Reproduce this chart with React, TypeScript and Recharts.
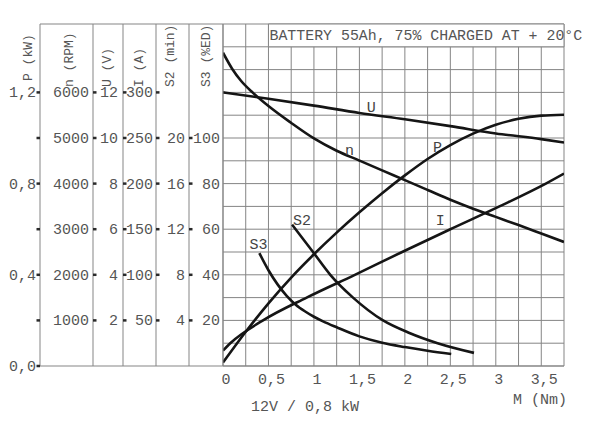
import React from 'react';
import { LineChart, Line, XAxis, YAxis, CartesianGrid, ReferenceArea, ReferenceDot } from 'recharts';

// ---------- data ----------
const torqueTicks = [0, 0.25, 0.5, 0.75, 1, 1.25, 1.5, 1.75, 2, 2.25, 2.5, 2.75, 3, 3.25, 3.5, 3.75];
const torqueLabeled = [0, 0.5, 1, 1.5, 2, 2.5, 3, 3.5];

const uTorque = [0, 0.5, 1, 1.5, 2, 2.5, 3, 3.5, 3.75];
const uVolts = [12.0, 11.72, 11.42, 11.1, 10.82, 10.52, 10.2, 9.95, 9.8];

const nTorque = [0, 0.1, 0.2, 0.33, 0.5, 0.75, 1.0, 1.25, 1.5, 1.75, 2.0, 2.25, 2.5, 2.75, 3.0, 3.25, 3.5, 3.75];
const nRpm = [6870, 6520, 6250, 5990, 5700, 5330, 4990, 4720, 4505, 4290, 4075, 3860, 3645, 3450, 3270, 3090, 2905, 2720];

const pTorque = [0, 0.25, 0.5, 0.75, 1.0, 1.25, 1.5, 1.75, 2.0, 2.25, 2.5, 2.75, 3.0, 3.25, 3.5, 3.75];
const pKw = [0.015, 0.15, 0.275, 0.388, 0.49, 0.585, 0.674, 0.758, 0.836, 0.908, 0.969, 1.019, 1.058, 1.084, 1.098, 1.102];

const iTorque = [0, 0.08, 0.44, 0.92, 1.45, 1.97, 2.5, 3.04, 3.55, 3.75];
const iAmps = [17, 25, 50, 75, 100, 125, 150, 175, 200, 211];

const s2Torque = [0.76, 0.99, 1.18, 1.43, 1.76, 2.05, 2.36, 2.76];
const s2Min = [12.4, 10, 8, 6, 4, 2.9, 2, 1.15];

const s3Torque = [0.4, 0.5, 0.6, 0.7, 0.8, 0.9, 1.0, 1.1, 1.25, 1.5, 1.75, 2.0, 2.25, 2.51];
const s3Ed = [49.5, 42, 35.8, 30.8, 26.9, 24.0, 21.6, 19.6, 17.0, 13.0, 10.2, 8.3, 6.7, 5.3];

// axis ticks
const pTicks = [0, 0.2, 0.4, 0.6, 0.8, 1.0, 1.2];
const pLabeled = [0, 0.4, 0.8, 1.2];
const nTicks = [1000, 2000, 3000, 4000, 5000, 6000];
const uTicks = [2, 4, 6, 8, 10, 12];
const iTicks = [50, 100, 150, 200, 250, 300];
const s2Ticks = [4, 8, 12, 16, 20];
const s3Ticks = [0, 10, 20, 30, 40, 50, 60, 70, 80, 90, 100, 110, 120, 130, 140, 150];
const s3Labeled = [20, 40, 60, 80, 100];

// axis ids (alphabetical order = order outward from the plot)
const AX_S3 = 'a_s3';
const AX_S2 = 'b_s2';
const AX_I = 'c_i';
const AX_U = 'd_u';
const AX_N = 'e_n';
const AX_P = 'f_p';

// curve annotations
const curveNames = ['U', 'n', 'P', 'I', 'S2', 'S3'];
const curveAxis = [AX_U, AX_N, AX_P, AX_I, AX_S2, AX_S3];
const curveLabelM = [1.63, 1.39, 2.36, 2.39, 0.87, 0.39];
const curveLabelV = [11.36, 4735, 0.96, 160, 12.8, 53.5];

const titleText = 'BATTERY 55Ah, 75% CHARGED AT + 20°C';

// ---------- styles ----------
const FONT = '"Liberation Mono", "DejaVu Sans Mono", monospace';
const TEXT = '#555';
const GRID = '#858585';
const INK = '#151515';
const TICKINK = '#2a2a2a';

const zip = (xs: number[], ys: number[]) => xs.map((m, k) => ({ m, v: ys[k] }));

const fmtComma = (v: number, digits?: number) =>
  (digits != null ? v.toFixed(digits) : String(v)).replace('.', ',');

const makeYTick = (
  labeled: number[] | null,
  fmt: (v: number) => string,
  dash: 'left' | 'right' | 'none',
  margin: number
) => (props: any) => {
  const { x, y, payload } = props;
  const v = payload.value as number;
  const ax = x + margin;
  const show = labeled == null || labeled.some((l) => Math.abs(l - v) < 1e-9);
  return (
    <g>
      {dash !== 'none' && (
        <line
          x1={dash === 'right' ? ax : ax - 3.5}
          x2={dash === 'right' ? ax + 3.5 : ax}
          y1={y}
          y2={y}
          stroke={TICKINK}
          strokeWidth={2.5}
        />
      )}
      {show && (
        <text x={x} y={y + 5} textAnchor="end" fontFamily={FONT} fontSize={15} fill={TEXT}>
          {fmt(v)}
        </text>
      )}
    </g>
  );
};

const xTick = (props: any) => {
  const { x, y, payload } = props;
  const v = payload.value as number;
  const show = torqueLabeled.some((l) => Math.abs(l - v) < 1e-9);
  if (!show) return <g />;
  return (
    <text x={x + 3} y={y + 18} textAnchor="middle" fontFamily={FONT} fontSize={15} fill={TEXT}>
      {fmtComma(v)}
    </text>
  );
};

const axisTitle = (text: string, fromRight: number, bottomY: number, panel?: number) => (props: any) => {
  const vb = props.viewBox || {};
  const cx = vb.x + vb.width - fromRight;
  return (
    <g>
      {panel != null && (
        <g>
          <line x1={vb.x + vb.width} x2={panel} y1={vb.y} y2={vb.y} stroke={GRID} strokeWidth={1} />
          <line
            x1={vb.x + vb.width}
            x2={panel}
            y1={vb.y + vb.height}
            y2={vb.y + vb.height}
            stroke={GRID}
            strokeWidth={1}
          />
        </g>
      )}
      <text
        x={cx}
        y={bottomY}
        transform={`rotate(-90, ${cx}, ${bottomY})`}
        textAnchor="start"
        dominantBaseline="central"
        fontFamily={FONT}
        fontSize={13}
        fill={TEXT}
      >
        {text}
      </text>
    </g>
  );
};

const xAxisLabel = (props: any) => {
  const vb = props.viewBox || {};
  return (
    <g>
      <text x={vb.x + vb.width + 3} y={vb.y + 38} textAnchor="end" fontFamily={FONT} fontSize={15} fill={TEXT}>
        M (Nm)
      </text>
      <text x={vb.x + 28} y={vb.y + 45} textAnchor="start" fontFamily={FONT} fontSize={15} fill={TEXT}>
        12V / 0,8 kW
      </text>
    </g>
  );
};

const titleLabel = (props: any) => {
  const vb = props.viewBox || {};
  return (
    <text x={vb.x + 1} y={vb.y + vb.height / 2 + 5} textAnchor="start" fontFamily={FONT} fontSize={14.9} fill={TEXT}>
      {titleText}
    </text>
  );
};

const curveLabel = (text: string) => (props: any) => {
  const vb = props.viewBox || {};
  const cx = vb.x + (vb.width || 0) / 2;
  const cy = vb.y + (vb.height || 0) / 2;
  return (
    <text x={cx} y={cy + 5} textAnchor="middle" fontFamily={FONT} fontSize={15} fill="#444">
      {text}
    </text>
  );
};

const lineProps = {
  type: 'monotone' as const,
  dataKey: 'v',
  stroke: INK,
  strokeWidth: 2.6,
  dot: false,
  activeDot: false,
  isAnimationActive: false,
};

const PLOT_LEFT = 223;

const yCommon = {
  type: 'number' as const,
  interval: 0 as const,
  tickLine: false,
  tickSize: 0,
  axisLine: { stroke: GRID, strokeWidth: 1 },
  allowDataOverflow: true,
};

export default function App() {
  return (
    <div style={{ position: 'absolute', left: 0, top: 0, width: 600, height: 444, background: '#fff' }}>
      <LineChart width={600} height={444} margin={{ top: 24, right: 36, bottom: 48, left: 0 }}>
        <XAxis
          type="number"
          dataKey="m"
          domain={[0, 3.75]}
          ticks={torqueTicks}
          interval={0}
          tickLine={false}
          tickSize={0}
          tickMargin={0}
          height={30}
          axisLine={{ stroke: GRID, strokeWidth: 1 }}
          tick={xTick}
          label={{ value: 'M (Nm)', content: xAxisLabel }}
          allowDataOverflow
        />
        <YAxis
          {...yCommon}
          yAxisId={AX_S3}
          width={34}
          domain={[0, 150]}
          ticks={s3Ticks}
          tickMargin={3}
          tick={makeYTick(s3Labeled, (v) => String(v), 'none', 3)}
          label={{ value: 'S3 (%ED)', content: axisTitle('S3 (%ED)', 17, 87) }}
        />
        <YAxis
          {...yCommon}
          yAxisId={AX_S2}
          width={33}
          domain={[0, 30]}
          ticks={s2Ticks}
          tickMargin={4}
          tick={makeYTick(null, (v) => String(v), 'right', 4)}
          label={{ value: 'S2 (min)', content: axisTitle('S2 (min)', 19, 87) }}
        />
        <YAxis
          {...yCommon}
          yAxisId={AX_I}
          width={33}
          domain={[0, 375]}
          ticks={iTicks}
          tickMargin={3}
          tick={makeYTick(null, (v) => String(v), 'right', 3)}
          label={{ value: 'I (A)', content: axisTitle('I (A)', 17, 87) }}
        />
        <YAxis
          {...yCommon}
          yAxisId={AX_U}
          width={30}
          domain={[0, 15]}
          ticks={uTicks}
          tickMargin={5}
          tick={makeYTick(null, (v) => String(v), 'right', 5)}
          label={{ value: 'U (V)', content: axisTitle('U (V)', 16, 87) }}
        />
        <YAxis
          {...yCommon}
          yAxisId={AX_N}
          width={53}
          domain={[0, 7500]}
          ticks={nTicks}
          tickMargin={4}
          tick={makeYTick(null, (v) => String(v), 'right', 4)}
          label={{ value: 'n (RPM)', content: axisTitle('n (RPM)', 24, 87) }}
        />
        <YAxis
          {...yCommon}
          yAxisId={AX_P}
          width={40}
          domain={[0, 1.5]}
          ticks={pTicks}
          tickMargin={4}
          tick={makeYTick(pLabeled, (v) => fmtComma(v, 1), 'left', 4)}
          label={{ value: 'P (kW)', content: axisTitle('P (kW)', 12, 81, PLOT_LEFT) }}
        />

        <CartesianGrid yAxisId={AX_S3} stroke={GRID} strokeWidth={1} />

        <ReferenceArea
          yAxisId={AX_S3}
          x1={0.5}
          x2={3.75}
          y1={140}
          y2={150}
          fill="#ffffff"
          fillOpacity={1}
          stroke={GRID}
          strokeWidth={1}
          label={{ value: titleText, content: titleLabel }}
        />

        <Line {...lineProps} yAxisId={AX_U} data={zip(uTorque, uVolts)} />
        <Line {...lineProps} yAxisId={AX_N} data={zip(nTorque, nRpm)} />
        <Line {...lineProps} yAxisId={AX_P} data={zip(pTorque, pKw)} />
        <Line {...lineProps} yAxisId={AX_I} data={zip(iTorque, iAmps)} />
        <Line {...lineProps} yAxisId={AX_S2} data={zip(s2Torque, s2Min)} />
        <Line {...lineProps} yAxisId={AX_S3} data={zip(s3Torque, s3Ed)} />

        {curveNames.map((name, k) => (
          <ReferenceDot
            key={name}
            yAxisId={curveAxis[k]}
            x={curveLabelM[k]}
            y={curveLabelV[k]}
            r={0}
            fill="none"
            stroke="none"
            label={{ value: name, content: curveLabel(name) }}
          />
        ))}
      </LineChart>
    </div>
  );
}
